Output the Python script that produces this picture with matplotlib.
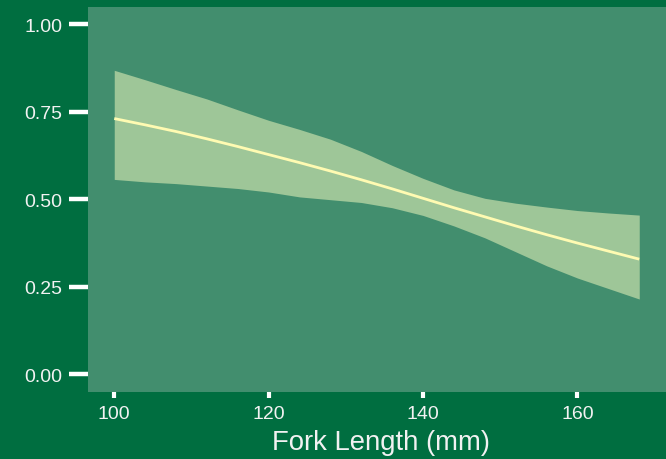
import matplotlib
matplotlib.use("Agg")
import matplotlib.pyplot as plt

# Predicted probability vs fork length with confidence band
fork_length = [100, 104, 108, 112, 116, 120, 124, 128, 132, 136,
               140, 144, 148, 152, 156, 160, 164, 168]
fit = [0.731, 0.713, 0.694, 0.673, 0.651, 0.628, 0.605, 0.581, 0.556, 0.530,
       0.503, 0.476, 0.450, 0.424, 0.399, 0.375, 0.352, 0.329]
upper = [0.869, 0.842, 0.814, 0.787, 0.756, 0.726, 0.700, 0.672, 0.637, 0.597,
         0.560, 0.527, 0.503, 0.489, 0.478, 0.468, 0.461, 0.455]
lower = [0.557, 0.550, 0.545, 0.538, 0.531, 0.521, 0.507, 0.499, 0.491, 0.476,
         0.454, 0.424, 0.390, 0.350, 0.310, 0.275, 0.245, 0.215]

x_ticks = [100, 120, 140, 160]
y_ticks = [0.00, 0.25, 0.50, 0.75, 1.00]
y_tick_labels = ["0.00", "0.25", "0.50", "0.75", "1.00"]
x_label = "Fork Length (mm)"

BG = "#006E40"
PANEL = "#428E6E"
RIBBON = "#9EC698"
LINE = "#FFFBB2"
TEXT = "#F2F2F2"

plt.rcParams["font.family"] = ["Liberation Sans", "DejaVu Sans"]

fig = plt.figure(figsize=(6.66, 4.60), dpi=100, facecolor=BG)
ax = fig.add_axes([88 / 666, 1 - 392.7 / 460, 577.5 / 666, 384.7 / 460])
ax.set_facecolor(PANEL)

ax.fill_between(fork_length, lower, upper, color=RIBBON, linewidth=0)
ax.plot(fork_length, fit, color=LINE, linewidth=2.0, solid_capstyle="butt")

x_span = max(fork_length) - min(fork_length)
ax.set_xlim(min(fork_length) - 0.05 * x_span, max(fork_length) + 0.05 * x_span)
ax.set_ylim(-0.05, 1.05)

ax.set_xticks(x_ticks)
ax.set_yticks(y_ticks)
ax.set_yticklabels(y_tick_labels)

for s in ax.spines.values():
    s.set_visible(False)

ax.tick_params(axis="y", length=13.7, width=3.2, color="white",
               labelcolor=TEXT, labelsize=14, pad=5)
ax.tick_params(axis="x", length=4.3, width=3.0, color="white",
               labelcolor=TEXT, labelsize=14, pad=5)

ax.set_xlabel(x_label, color=TEXT, fontsize=19.8)
ax.xaxis.set_label_coords(0.507, -0.098)

fig.savefig("out.png", dpi=100, facecolor=BG)
